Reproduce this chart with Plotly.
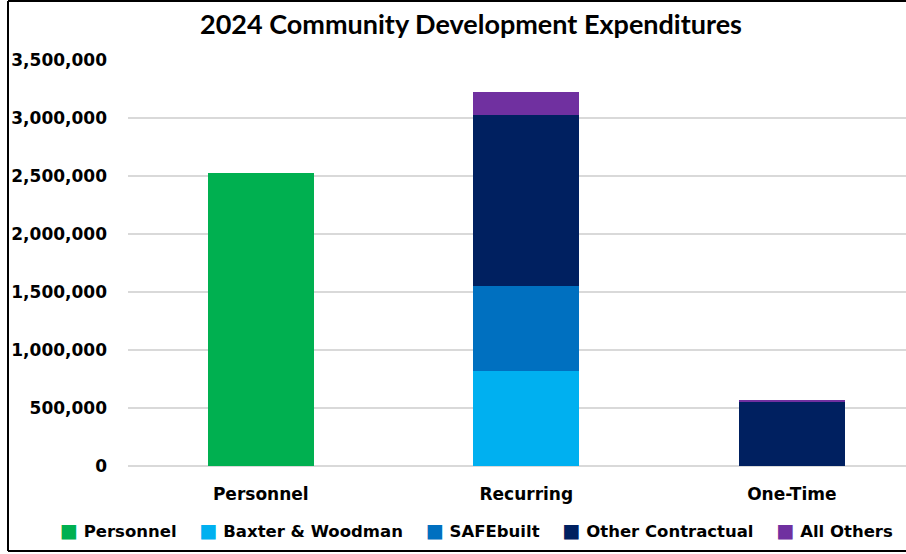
import plotly.graph_objects as go

categories = ["Personnel", "Recurring", "One-Time"]

personnel = [2530000, 0, 0]
baxter_woodman = [0, 815000, 0]
safebuilt = [0, 740000, 0]
other_contractual = [0, 1475000, 560000]
all_others = [0, 195000, 6000]

series = [
    ("Personnel", personnel, "#00B050"),
    ("Baxter & Woodman", baxter_woodman, "#00B0F0"),
    ("SAFEbuilt", safebuilt, "#0070C0"),
    ("Other Contractual", other_contractual, "#002060"),
    ("All Others", all_others, "#7030A0"),
]

fig = go.Figure()
for name, values, color in series:
    fig.add_trace(go.Bar(
        x=categories, y=values, name=name,
        marker=dict(color=color, line=dict(width=0)),
        width=0.4,
    ))

tick_font = dict(family="DejaVu Sans", size=17, color="#000000", weight="bold")

# Legend row drawn as a single line of text: coloured square + series name
legend_text = "&nbsp;&nbsp;&nbsp;&nbsp;".join(
    f'<span style="color:{color};font-size:19px">■</span>&nbsp;{name.replace("&", "&amp;")}'
    for name, _, color in series
)

fig.update_layout(
    barmode="stack",
    width=906, height=554,
    margin=dict(l=128, r=0, t=60, b=88),
    paper_bgcolor="white",
    plot_bgcolor="white",
    title=dict(
        text="<b>2024 Community Development Expenditures</b>",
        x=471 / 906, xanchor="center", xref="container",
        y=1 - 25 / 554, yanchor="middle", yref="container",
        font=dict(family="Lato", size=27, color="#000000"),
    ),
    xaxis=dict(
        range=[-0.5, 2.43],
        showgrid=False, showline=False, ticks="",
        tickfont=tick_font,
        ticklabelstandoff=16,
    ),
    yaxis=dict(
        range=[0, 3500000],
        dtick=500000,
        tickformat=",d",
        showgrid=True, gridcolor="#D9D9D9", gridwidth=1.5,
        zeroline=True, zerolinecolor="#D9D9D9", zerolinewidth=1.5,
        showline=False, ticks="",
        tickfont=tick_font,
        ticklabelstandoff=20,
    ),
    showlegend=False,
    annotations=[dict(
        text=legend_text,
        xref="paper", yref="paper",
        x=(476 - 128) / 778, xanchor="center",
        y=(466 - 530) / 406, yanchor="middle",
        showarrow=False,
        font=dict(family="DejaVu Sans", size=16.5, color="#000000", weight="bold"),
    )],
)

# Chart frame: left, top and bottom edges
frame_left = (8 - 128) / 778
frame_right = (960 - 128) / 778
frame_top = (466 - 1) / 406
frame_bottom = (466 - 551) / 406
for x0, y0, x1, y1 in [
    (frame_left, frame_bottom, frame_left, frame_top),
    (frame_left, frame_top, frame_right, frame_top),
    (frame_left, frame_bottom, frame_right, frame_bottom),
]:
    fig.add_shape(type="line", xref="paper", yref="paper",
                  x0=x0, y0=y0, x1=x1, y1=y1,
                  line=dict(color="#000000", width=2), layer="above")

fig.write_html("out.html")
